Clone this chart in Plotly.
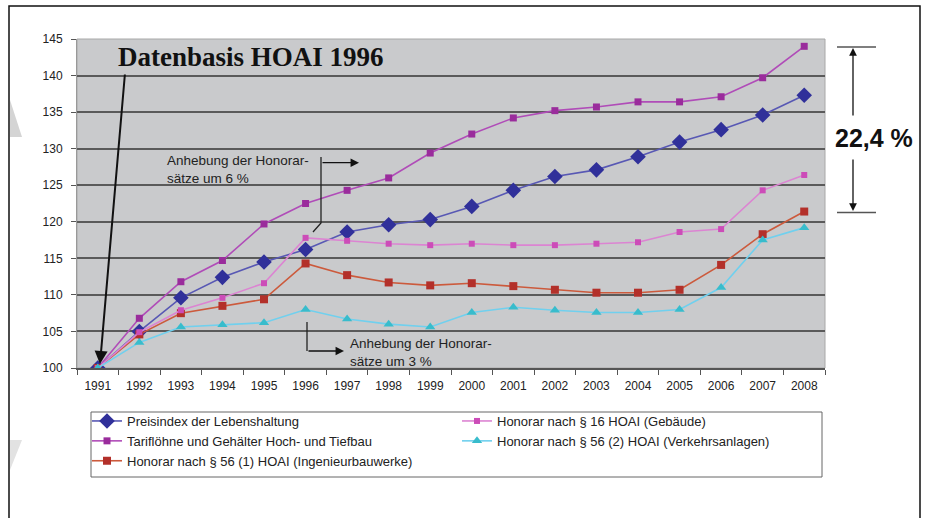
import plotly.graph_objects as go

years = [str(y) for y in range(1991, 2009)]
preisindex = [100, 105.0, 109.6, 112.4, 114.5, 116.2, 118.6, 119.6, 120.3, 122.1,
              124.3, 126.2, 127.1, 128.9, 130.9, 132.6, 134.6, 137.3]
tarifloehne = [100, 106.8, 111.8, 114.7, 119.7, 122.5, 124.3, 126.0, 129.4, 132.0,
               134.2, 135.2, 135.7, 136.4, 136.4, 137.1, 139.7, 144.0]
hoai_56_1 = [100, 104.6, 107.5, 108.5, 109.4, 114.3, 112.7, 111.7, 111.3, 111.6,
             111.2, 110.7, 110.3, 110.3, 110.7, 114.1, 118.3, 121.4]
hoai_16 = [100, 104.9, 107.9, 109.6, 111.6, 117.8, 117.4, 117.0, 116.8, 117.0,
           116.8, 116.8, 117.0, 117.2, 118.6, 119.0, 124.3, 126.4]
hoai_56_2 = [100, 103.5, 105.6, 105.9, 106.2, 108.0, 106.7, 106.0, 105.6, 107.6,
             108.3, 107.9, 107.6, 107.6, 108.0, 111.0, 117.5, 119.2]

names = ["Preisindex der Lebenshaltung",
         "Tariflöhne und Gehälter Hoch- und Tiefbau",
         "Honorar nach § 56 (1) HOAI (Ingenieurbauwerke)",
         "Honorar nach § 16 HOAI (Gebäude)",
         "Honorar nach § 56 (2) HOAI (Verkehrsanlagen)"]
y_ticks = [100, 105, 110, 115, 120, 125, 130, 135, 140, 145]

# body margin removed via post_script, so figure fills the window
OFF = 0
W, H = 926 - OFF, 518 - OFF
L, R, T, B = 77 - OFF, 825 - OFF, 39 - OFF, 368 - OFF


def px(x):
    return (x - OFF - L) / (R - L)


def py(y):
    return (B - (y - OFF)) / (B - T)


fig = go.Figure()

series = [
    (preisindex, names[0], "diamond", 12, "#30309a", "#5858b4", "legend"),
    (tarifloehne, names[1], "square", 7, "#9a2c9c", "#b04cb8", "legend"),
    (hoai_56_1, names[2], "square", 8, "#b3302a", "#cc5a3c", "legend"),
    (hoai_16, names[3], "square", 6, "#cc4cb8", "#dc84d2", "legend2"),
    (hoai_56_2, names[4], "triangle-up", 9, "#38bccc", "#70d0ee", "legend2"),
]
for vals, nm, sym, sz, mc, lc, lg in series:
    fig.add_trace(go.Scatter(
        x=years, y=vals, name=nm, mode="lines+markers",
        line=dict(color=lc, width=1.6),
        marker=dict(symbol=sym, size=sz, color=mc),
        legend=lg,
    ))

shapes = []
annotations = []

# outer frame (left, top, right lines)
frame_path = f"M {px(9)},{py(518)} L {px(9)},{py(6)} L {px(920)},{py(6)} L {px(920)},{py(518)}"
shapes.append(dict(type="path", xref="paper", yref="paper", path=frame_path,
                   line=dict(color="#111", width=1.5), layer="above"))
# faint watermark triangles
shapes.append(dict(type="path", xref="paper", yref="paper",
                   path=f"M {px(10)},{py(100)} L {px(22)},{py(137)} L {px(10)},{py(137)} Z",
                   fillcolor="#d4d4d4", line=dict(width=0), layer="below"))
shapes.append(dict(type="path", xref="paper", yref="paper",
                   path=f"M {px(10)},{py(440)} L {px(22)},{py(440)} L {px(10)},{py(470)} Z",
                   fillcolor="#e2e2e2", line=dict(width=0), layer="below"))

# legend box
shapes.append(dict(type="rect", xref="paper", yref="paper",
                   x0=px(91), x1=px(822), y0=py(477), y1=py(412),
                   line=dict(color="#666", width=1), fillcolor="white", layer="below"))

# Datenbasis HOAI 1996
annotations.append(dict(xref="paper", yref="paper", x=px(251), y=py(57),
                        text="<b>Datenbasis HOAI 1996</b>", showarrow=False,
                        font=dict(family="Liberation Serif", size=27, color="#111"),
                        xanchor="center", yanchor="middle"))
annotations.append(dict(xref="paper", yref="paper", x=px(100), y=py(364),
                        ax=125 - 100, ay=73 - 364, axref="pixel", ayref="pixel",
                        text="", showarrow=True, arrowhead=2, arrowsize=1.3,
                        arrowwidth=2, arrowcolor="#111"))

# 6 % bracket
annotations.append(dict(xref="paper", yref="paper", x=px(165), y=py(151),
                        text="Anhebung der Honorar-<br>sätze um 6 %", showarrow=False,
                        font=dict(family="Liberation Sans", size=13.5, color="#222"),
                        xanchor="left", yanchor="top", align="left"))
shapes.append(dict(type="path", xref="paper", yref="paper",
                   path=f"M {px(321)},{py(157)} L {px(321)},{py(223)} L {px(313)},{py(232)}",
                   line=dict(color="#222", width=1.3)))
annotations.append(dict(xref="paper", yref="paper", x=px(359), y=py(162.7),
                        ax=-38, ay=0, text="", showarrow=True, arrowhead=2,
                        arrowsize=1.3, arrowwidth=1.3, arrowcolor="#111"))

# 3 % bracket
annotations.append(dict(xref="paper", yref="paper", x=px(348), y=py(334),
                        text="Anhebung der Honorar-<br>sätze um 3 %", showarrow=False,
                        font=dict(family="Liberation Sans", size=13.5, color="#222"),
                        xanchor="left", yanchor="top", align="left"))
shapes.append(dict(type="line", xref="paper", yref="paper",
                   x0=px(307), x1=px(307), y0=py(322), y1=py(351),
                   line=dict(color="#222", width=1.3)))
annotations.append(dict(xref="paper", yref="paper", x=px(344), y=py(351),
                        ax=-37, ay=0, text="", showarrow=True, arrowhead=2,
                        arrowsize=1.3, arrowwidth=1.3, arrowcolor="#111"))

# 22,4 % bracket
for yy in (47, 212.5):
    shapes.append(dict(type="line", xref="paper", yref="paper",
                       x0=px(837), x1=px(876), y0=py(yy), y1=py(yy),
                       line=dict(color="#555", width=1.5)))
annotations.append(dict(xref="paper", yref="paper", x=px(853), y=py(48),
                        ax=0, ay=117 - 48, text="", showarrow=True, arrowhead=2,
                        arrowsize=1.2, arrowwidth=1.3, arrowcolor="#111"))
annotations.append(dict(xref="paper", yref="paper", x=px(853), y=py(211),
                        ax=0, ay=158 - 211, text="", showarrow=True, arrowhead=2,
                        arrowsize=1.2, arrowwidth=1.3, arrowcolor="#111"))
annotations.append(dict(xref="paper", yref="paper", x=px(874), y=py(138),
                        text="<b>22,4 %</b>", showarrow=False,
                        font=dict(family="Liberation Sans", size=25, color="#111"),
                        xanchor="center", yanchor="middle"))

fig.update_layout(
    width=W, height=H,
    margin=dict(l=L, r=W - R, t=T, b=H - B),
    paper_bgcolor="white",
    plot_bgcolor="#c9cacc",
    font=dict(family="Liberation Sans", size=12, color="#222"),
    shapes=shapes,
    annotations=annotations,
    legend=dict(x=px(87), y=py(406), xanchor="left", yanchor="top",
                orientation="v", bgcolor="rgba(0,0,0,0)", borderwidth=0,
                font=dict(family="Liberation Sans", size=13, color="#222"),
                tracegroupgap=0, itemwidth=30),
    legend2=dict(x=px(457), y=py(406), xanchor="left", yanchor="top",
                 orientation="v", bgcolor="rgba(0,0,0,0)", borderwidth=0,
                 font=dict(family="Liberation Sans", size=13, color="#222"),
                 tracegroupgap=0, itemwidth=30),
    showlegend=True,
)
fig.update_xaxes(type="category", range=[-0.5, 17.5], showgrid=False,
                 ticks="outside", tickson="boundaries", ticklen=5,
                 tickcolor="#555", showline=True, linecolor="#555", linewidth=1.5,
                 mirror=False, ticklabelstandoff=6,
                 tickfont=dict(size=12, color="#222"), zeroline=False)
fig.update_yaxes(range=[100, 145], tickvals=y_ticks, showgrid=True,
                 gridcolor="#5a5a5a", gridwidth=1.5, ticks="outside", ticklen=5,
                 tickcolor="#555", showline=True, linecolor="#999", linewidth=1,
                 ticklabelstandoff=6, tickfont=dict(size=12, color="#222"),
                 zeroline=False)
# light border on top/right of plot area
fig.add_shape(type="rect", xref="paper", yref="paper", x0=0, x1=1, y0=0, y1=1,
              line=dict(color="#a8a8a8", width=1), layer="below")

fig.write_html("out.html",
               config={"displayModeBar": False},
               post_script="document.body.style.margin='0';"
                           "document.body.style.overflow='hidden';")
